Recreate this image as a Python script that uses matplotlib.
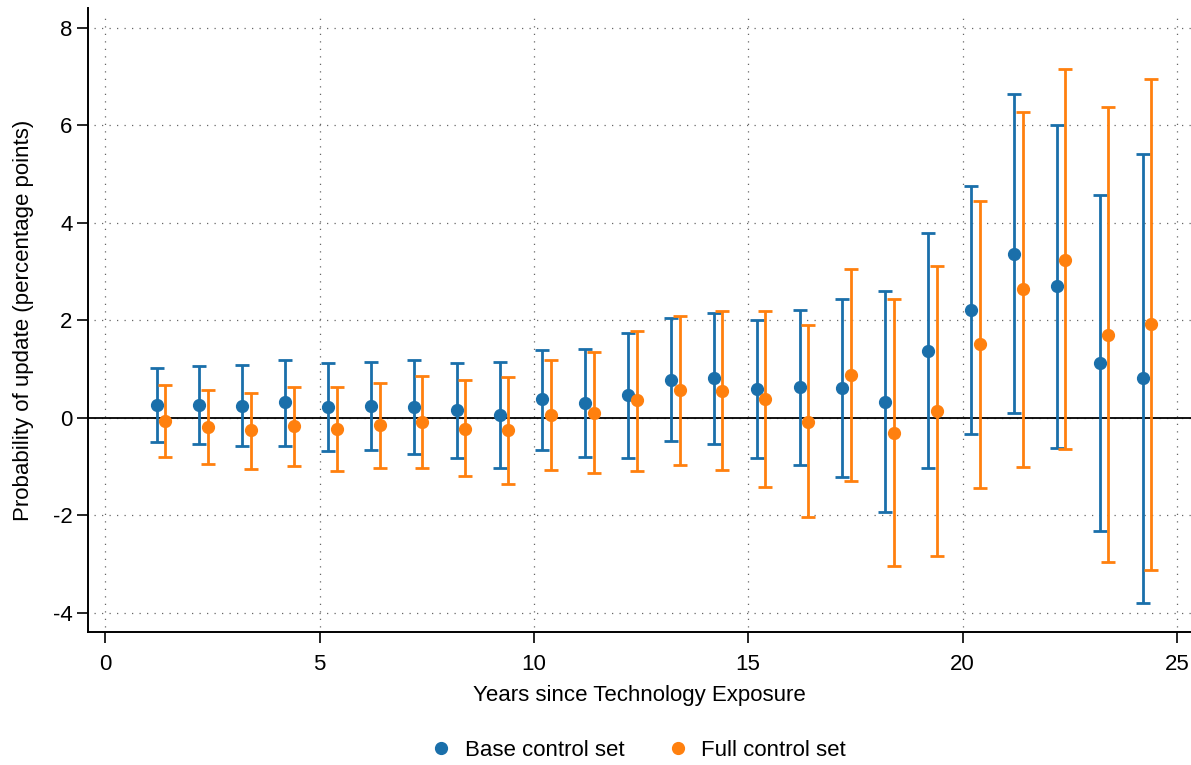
import matplotlib
matplotlib.use("Agg")
import matplotlib.pyplot as plt
from matplotlib.lines import Line2D
import numpy as np

plt.rcParams['font.family'] = ['Liberation Sans', 'DejaVu Sans']
plt.rcParams['axes.unicode_minus'] = False

years = list(range(1, 25))
base_est = [0.27, 0.27, 0.25, 0.32, 0.23, 0.25, 0.23, 0.16, 0.07, 0.38, 0.31, 0.47,
            0.78, 0.81, 0.60, 0.63, 0.61, 0.32, 1.38, 2.22, 3.37, 2.70, 1.12, 0.82]
base_lo = [-0.49, -0.53, -0.58, -0.57, -0.68, -0.65, -0.74, -0.82, -1.03, -0.66, -0.81, -0.82,
           -0.48, -0.53, -0.82, -0.97, -1.22, -1.93, -1.03, -0.32, 0.10, -0.61, -2.33, -3.79]
base_hi = [1.02, 1.06, 1.08, 1.19, 1.13, 1.14, 1.19, 1.13, 1.15, 1.40, 1.41, 1.75,
           2.04, 2.15, 2.01, 2.22, 2.45, 2.60, 3.80, 4.76, 6.64, 6.00, 4.57, 5.42]
full_est = [-0.06, -0.18, -0.25, -0.17, -0.22, -0.15, -0.09, -0.22, -0.25, 0.05, 0.10, 0.36,
            0.58, 0.56, 0.39, -0.08, 0.88, -0.30, 0.15, 1.52, 2.64, 3.25, 1.71, 1.93]
full_lo = [-0.81, -0.95, -1.04, -0.99, -1.08, -1.02, -1.02, -1.20, -1.35, -1.07, -1.14, -1.08,
           -0.96, -1.07, -1.41, -2.04, -1.30, -3.04, -2.83, -1.43, -1.00, -0.63, -2.95, -3.11]
full_hi = [0.68, 0.58, 0.51, 0.64, 0.63, 0.72, 0.85, 0.77, 0.83, 1.18, 1.35, 1.79,
           2.10, 2.19, 2.19, 1.91, 3.06, 2.44, 3.12, 4.46, 6.27, 7.15, 6.37, 6.95]

x_ticks = [0, 5, 10, 15, 20, 25]
y_ticks = [-4, -2, 0, 2, 4, 6, 8]

blue = '#1a6faa'
orange = '#ff800e'

fig = plt.figure(figsize=(11.91, 7.65), dpi=100)
ax = fig.add_axes([0.0739, 0.174, 0.9261, 0.8155])

xmin, xmax = -0.4, 25.33
ymin, ymax = -4.39, 8.41

# dotted grid (inset from the frame, Stata style)
grid_kw = dict(color='#666666', linewidth=0.9, linestyle=(0, (1, 5)), zorder=1)
for yt in y_ticks:
    ax.plot([-0.26, xmax], [yt, yt], **grid_kw)
for xt in x_ticks:
    ax.plot([xt, xt], [-4.29, 8.33], **grid_kw)

yrs = np.array(years, dtype=float)
for off, est, lo, hi, col, lab in [(0.2, base_est, base_lo, base_hi, blue, 'Base control set'),
                                   (0.4, full_est, full_lo, full_hi, orange, 'Full control set')]:
    est = np.array(est); lo = np.array(lo); hi = np.array(hi)
    ax.errorbar(yrs + off, est, yerr=[est - lo, hi - est], fmt='o', color=col,
                ecolor=col, elinewidth=2.0, capsize=5, capthick=2.0,
                markersize=8.5, label=lab, zorder=3)

ax.axhline(0, color='black', linewidth=1.3, zorder=2)

ax.set_xlim(xmin, xmax)
ax.set_ylim(ymin, ymax)
ax.set_xticks(x_ticks)
ax.set_yticks(y_ticks)
for s in ['top', 'right']:
    ax.spines[s].set_visible(False)
for s in ['left', 'bottom']:
    ax.spines[s].set_linewidth(1.4)
ax.tick_params(axis='both', direction='out', length=8, width=1.2, labelsize=16)
ax.tick_params(axis='x', pad=8)
ax.tick_params(axis='y', pad=3)
ax.set_xlabel('Years since Technology Exposure', fontsize=16, labelpad=7)
ax.set_ylabel('Probability of update (percentage points)', fontsize=16, labelpad=14)

h = [Line2D([], [], marker='o', linestyle='none', color=blue, markersize=8.5),
     Line2D([], [], marker='o', linestyle='none', color=orange, markersize=8.5)]
fig.legend(h, ['Base control set', 'Full control set'], loc='center',
           bbox_to_anchor=(0.5357, 0.0196), ncol=2, frameon=False, fontsize=16,
           handletextpad=0.55, columnspacing=1.9, handlelength=1.0)

fig.savefig('out.png', dpi=100)
